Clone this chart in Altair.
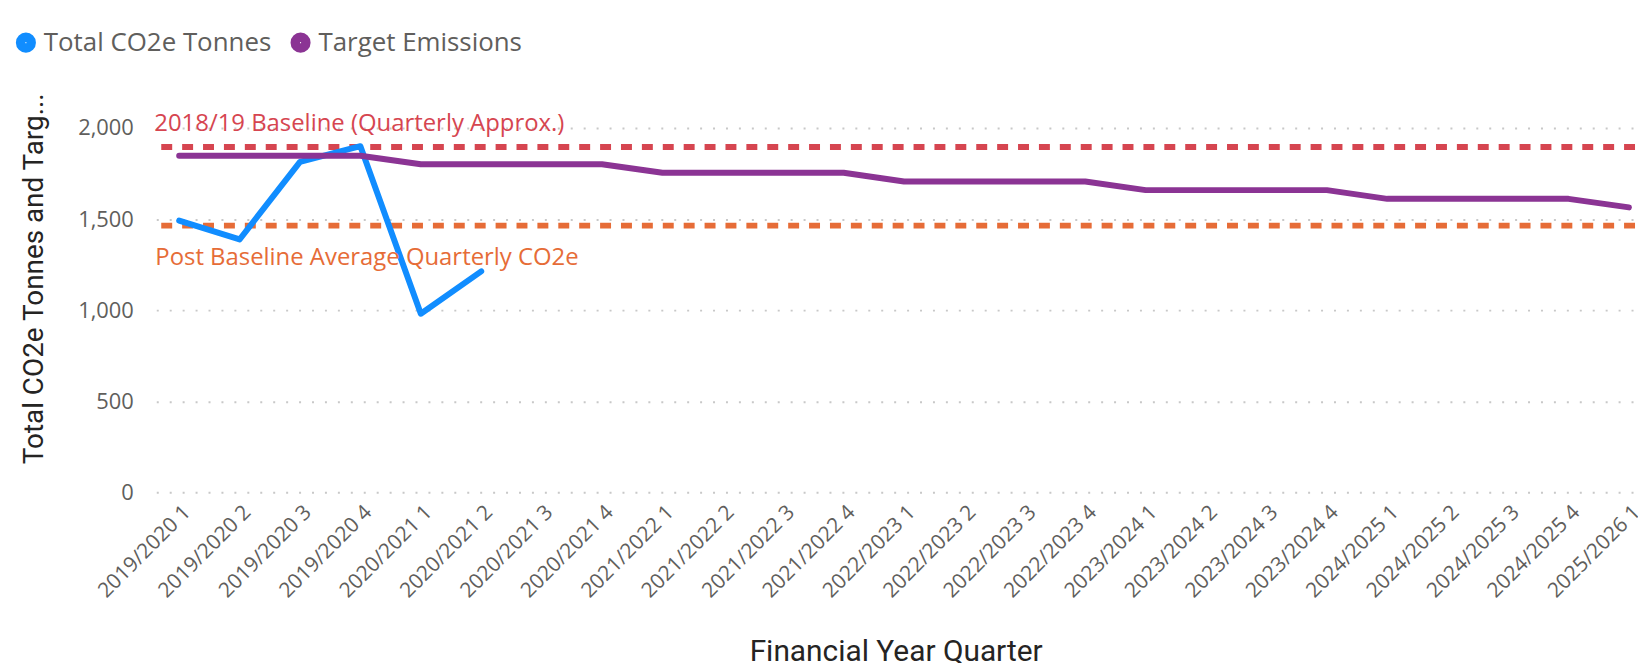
import altair as alt
import pandas as pd

quarters = [
    "2019/2020 1", "2019/2020 2", "2019/2020 3", "2019/2020 4",
    "2020/2021 1", "2020/2021 2", "2020/2021 3", "2020/2021 4",
    "2021/2022 1", "2021/2022 2", "2021/2022 3", "2021/2022 4",
    "2022/2023 1", "2022/2023 2", "2022/2023 3", "2022/2023 4",
    "2023/2024 1", "2023/2024 2", "2023/2024 3", "2023/2024 4",
    "2024/2025 1", "2024/2025 2", "2024/2025 3", "2024/2025 4",
    "2025/2026 1",
]
total_co2e = [1492, 1388, 1814, 1900, 980, 1213]
target_emissions = [
    1848, 1848, 1848, 1848,
    1801, 1801, 1801, 1801,
    1754, 1754, 1754, 1754,
    1706, 1706, 1706, 1706,
    1659, 1659, 1659, 1659,
    1611, 1611, 1611, 1611,
    1564,
]
baseline_value = 1896
post_baseline_avg = 1464
series_names = ["Total CO2e Tonnes", "Target Emissions"]
series_colors = ["#118DFF", "#8B3494"]
baseline_label = "2018/19 Baseline (Quarterly Approx.)"
average_label = "Post Baseline Average Quarterly CO2e"

rows = []
for q, v in zip(quarters, total_co2e):
    rows.append({"quarter": q, "value": v, "series": series_names[0]})
for q, v in zip(quarters, target_emissions):
    rows.append({"quarter": q, "value": v, "series": series_names[1]})
df = pd.DataFrame(rows)

ref_df = pd.DataFrame({
    "v": [baseline_value, post_baseline_avg],
    "label": [baseline_label, average_label],
    "kind": ["baseline", "average"],
})

LABEL_FONT = "Open Sans"
TITLE_FONT = "Roboto"

# concentric rings so that the stroked legend symbol reads as a filled dot
DOT_PATH = (
    "M-1,0A1,1,0,1,0,1,0A1,1,0,1,0,-1,0"
    "M-0.75,0A0.75,0.75,0,1,0,0.75,0A0.75,0.75,0,1,0,-0.75,0"
    "M-0.5,0A0.5,0.5,0,1,0,0.5,0A0.5,0.5,0,1,0,-0.5,0"
    "M-0.25,0A0.25,0.25,0,1,0,0.25,0A0.25,0.25,0,1,0,-0.25,0"
)

x_enc = alt.X(
    "quarter:N",
    sort=quarters,
    scale=alt.Scale(type="point", domain=quarters, padding=0.24, align=0.79),
    axis=alt.Axis(
        title="Financial Year Quarter",
        labelAngle=-45,
        labelAlign="right",
        labelBaseline="top",
        labelPadding=9,
        labelFont=LABEL_FONT,
        labelFontSize=21,
        labelColor="#605E5C",
        labelLimit=400,
        ticks=False,
        domain=False,
        grid=False,
        labelOverlap=False,
        titleFont=TITLE_FONT,
        titleFontSize=30,
        titleFontWeight="normal",
        titleColor="#252423",
        titleY=169,
        titleBaseline="alphabetic",
    ),
)

y_scale = alt.Scale(domain=[0, 2000], nice=False, zero=True)
y_axis = alt.Axis(
    title="Total CO2e Tonnes and Targ...",
    values=[0, 500, 1000, 1500, 2000],
    format=",.0f",
    labelFont=LABEL_FONT,
    labelFontSize=22,
    labelColor="#605E5C",
    labelPadding=23,
    ticks=False,
    domain=False,
    grid=True,
    gridColor="#C8C8C8",
    gridDash=[2, 11],
    gridWidth=2,
    titleFont=TITLE_FONT,
    titleFontSize=28,
    titleFontWeight="normal",
    titleColor="#252423",
    titleAngle=-90,
    titleX=-114,
    titleY=151,
    titleBaseline="alphabetic",
    titleAlign="center",
    titleLimit=600,
)

color_scale = alt.Scale(domain=series_names, range=series_colors)

lines = alt.Chart(df).mark_line(strokeWidth=6, strokeCap="round", strokeJoin="round").encode(
    x=x_enc,
    y=alt.Y("value:Q", scale=y_scale, axis=y_axis),
    color=alt.Color(
        "series:N",
        scale=color_scale,
        legend=alt.Legend(
            title=None,
            orient="none",
            direction="horizontal",
            legendX=-144,
            legendY=-99,
            symbolType=DOT_PATH,
            symbolSize=230,
            symbolStrokeWidth=5,
            symbolOpacity=1,
            labelFont=LABEL_FONT,
            labelFontSize=26,
            labelColor="#605E5C",
            labelLimit=500,
            labelOffset=5,
            columnPadding=11,
            padding=0,
        ),
    ),
    detail="series:N",
)

baseline_rule = alt.Chart(ref_df).transform_filter(alt.datum.kind == "baseline").mark_rule(
    strokeDash=[11, 10], strokeWidth=6, color="#D64550"
).encode(y=alt.Y("v:Q", scale=y_scale))

average_rule = alt.Chart(ref_df).transform_filter(alt.datum.kind == "average").mark_rule(
    strokeDash=[11, 10], strokeWidth=6, color="#E66C37"
).encode(y=alt.Y("v:Q", scale=y_scale))

baseline_text = alt.Chart(ref_df).transform_filter(alt.datum.kind == "baseline").mark_text(
    align="left", baseline="alphabetic", dy=-16, font=LABEL_FONT, fontSize=24, color="#D64550"
).encode(x=alt.value(-2), y=alt.Y("v:Q", scale=y_scale), text="label:N")

average_text = alt.Chart(ref_df).transform_filter(alt.datum.kind == "average").mark_text(
    align="left", baseline="alphabetic", dy=40, font=LABEL_FONT, fontSize=24, color="#E66C37"
).encode(x=alt.value(-1), y=alt.Y("v:Q", scale=y_scale), text="label:N")

chart = alt.layer(
    baseline_rule, average_rule, lines, baseline_text, average_text
).properties(
    width=1486,
    height=366,
    padding={"left": 149, "top": 119, "right": 3, "bottom": 170},
    autosize=alt.AutoSizeParams(type="none"),
).configure_view(stroke=None)

chart.save("out.html", embed_options={"renderer": "svg", "actions": False})
